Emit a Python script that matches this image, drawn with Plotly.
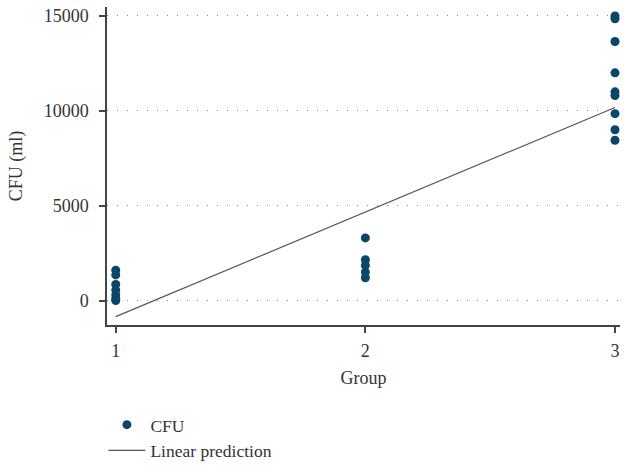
import plotly.graph_objects as go

# Data
group1_cfu = [1600, 1350, 850, 550, 300, 100, 0]
group2_cfu = [3300, 2150, 1850, 1500, 1200]
group3_cfu = [15000, 14850, 13650, 12000, 11000, 10800, 9850, 9000, 8450]
groups = [1, 2, 3]
linear_prediction = [-850, 4660, 10175]
y_ticks = [0, 5000, 10000, 15000]
y_tick_labels = ["0", "5000", "10000", "15000"]

xs = [1] * len(group1_cfu) + [2] * len(group2_cfu) + [3] * len(group3_cfu)
ys = group1_cfu + group2_cfu + group3_cfu

font_family = "Liberation Serif"
axis_color = "#444444"

fig = go.Figure()
fig.add_trace(go.Scatter(
    x=xs, y=ys, mode="markers", name="CFU",
    marker=dict(color="#0b4669", size=9, line=dict(width=0)),
    cliponaxis=False,
))
fig.add_trace(go.Scatter(
    x=groups, y=linear_prediction, mode="lines", name="Linear prediction",
    line=dict(color="#555555", width=1.2),
))

fig.update_layout(
    width=624, height=466,
    margin=dict(l=107, r=4, t=7, b=141, autoexpand=False),
    paper_bgcolor="white", plot_bgcolor="white",
    font=dict(family=font_family, size=18, color="#333333"),
    showlegend=True,
    legend=dict(x=-0.007, xanchor="left",
                yref="container", y=0.127, yanchor="top",
                font=dict(size=17.5, family=font_family),
                itemwidth=37,
                bgcolor="rgba(0,0,0,0)", tracegroupgap=0),
    xaxis=dict(
        range=[0.965, 3.02], tickvals=groups, ticktext=[str(g) for g in groups],
        showgrid=False, zeroline=False,
        showline=True, linecolor=axis_color, linewidth=1.5,
        ticks="outside", ticklen=6, tickcolor=axis_color, tickwidth=1.5,
        ticklabelstandoff=3,
        title=dict(text="Group", font=dict(size=18), standoff=11),
    ),
    yaxis=dict(
        range=[-1290, 15470], tickvals=y_ticks, ticktext=y_tick_labels,
        showgrid=True, gridcolor="#888888", gridwidth=1, griddash="1px,9px",
        zeroline=False,
        showline=True, linecolor=axis_color, linewidth=1.5,
        ticks="outside", ticklen=6, tickcolor=axis_color, tickwidth=1.5,
        ticklabelstandoff=7,
        title=dict(text="CFU (ml)", font=dict(size=18), standoff=16),
    ),
)

# remove the default page margin so the figure fills the window exactly
fig.write_html(
    "out.html",
    config={"displayModeBar": False},
    post_script="document.body.style.margin='0';document.body.style.overflow='hidden';",
)
